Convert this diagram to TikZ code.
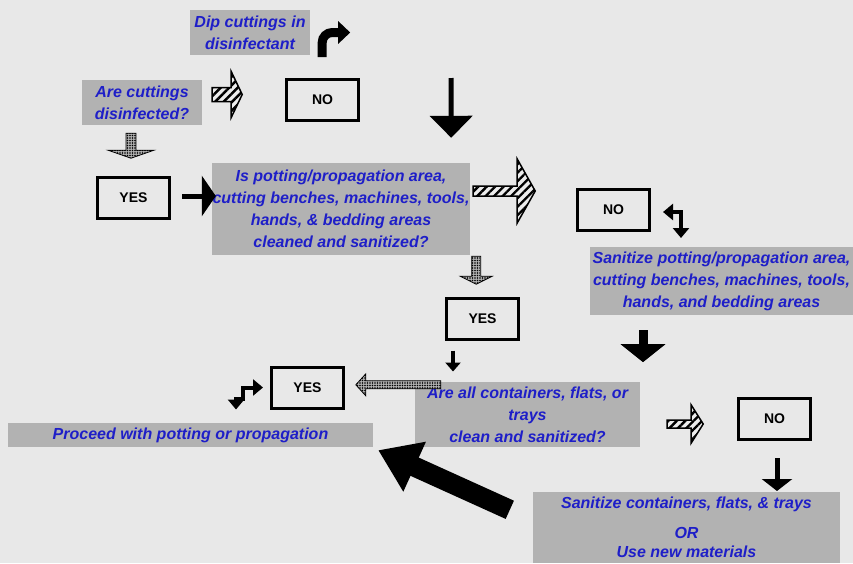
\documentclass[tikz,border=0pt]{standalone}
\usepackage{fontspec}
\newfontfamily\arialfont{Liberation Sans}
\definecolor{bggray}{RGB}{232,232,232}
\definecolor{boxgray}{RGB}{178,178,178}
\definecolor{askblue}{RGB}{30,30,200}
\usetikzlibrary{arrows.meta, calc, patterns, patterns.meta}
\tikzset{
    askbox/.style={rectangle, fill=boxgray, text=askblue, inner sep=0pt, align=center,
                   font=\arialfont\bfseries\itshape\fontsize{16}{22}\selectfont},
    ansbox/.style={rectangle, draw=black, line width=3pt, minimum width=72pt, minimum height=41pt,
                   font=\arialfont\bfseries\fontsize{14}{16}\selectfont},
    hatchedarrow/.style={draw=black, line width=1.5pt, preaction={fill=white!85!gray},
                         pattern={Lines[angle=45,distance=6pt,line width=2.4pt]}, pattern color=black},
    dotsarrow/.style={draw=black, line width=0.8pt, preaction={fill=gray!60},
                      pattern={Dots[distance=2.5pt,radius=0.8pt]}, pattern color=black},
    solidarrow/.style={draw=black, line width=5pt},
}
\newcommand{\blockarrow}[7]{%
    \begin{scope}[shift={#2}, rotate=#3]
        \draw[#1] (0,-#5) -- ({#4-#7},-#5) -- ({#4-#7},-#6) -- (#4,0) -- ({#4-#7},#6) -- ({#4-#7},#5) -- (0,#5) -- cycle;
    \end{scope}}

\begin{document}
\begin{tikzpicture}[x=1pt, y=-1pt]
            \fill[bggray] (0,0) rectangle (853,563);
            \useasboundingbox (0,0) rectangle (853,563);

            \node[askbox, minimum width=120pt, minimum height=45pt] (dip) at (250,32.5) {Dip cuttings in\\disinfectant};
            \node[askbox, minimum width=120pt, minimum height=45pt] (askdis) at (142,102.5) {Are cuttings\\disinfected?};
            \node[ansbox] (no1) at (322.5,100) {NO};
            \node[ansbox] (yes1) at (133.5,197.5) {YES};
            \node[askbox, minimum width=258pt, minimum height=92pt] (askarea) at (341,209) {Is potting/propagation area,\\cutting benches, machines, tools,\\hands, \& bedding areas\\cleaned and sanitized?};
            \node[ansbox] (no2) at (613.5,210) {NO};
            \node[askbox, minimum width=263pt, minimum height=68pt] (sanarea) at (721.5,281) {Sanitize potting/propagation area,\\cutting benches, machines, tools,\\hands, and bedding areas};
            \node[ansbox] (yes2) at (482.5,318.5) {YES};
            \node[ansbox] (yes3) at (307.5,387.5) {YES};
            \node[askbox, minimum width=225pt, minimum height=65pt] (askcont) at (527.5,414.5) {Are all containers, flats, or\\trays\\clean and sanitized?};
            \node[askbox, minimum width=365pt, minimum height=24pt] (proceed) at (190.5,435) {Proceed with potting or propagation};
            \node[ansbox] (no3) at (774.5,419) {NO};
            \node[askbox, minimum width=307pt, minimum height=71pt] (sancont) at (686.5,527.5) {Sanitize containers, flats, \& trays\\[8pt]OR\\[-3pt]Use new materials};

            \draw[solidarrow, line width=9pt, rounded corners=10pt, -{Triangle[width=22pt,length=12pt]}] ($(dip.south east)+(12,2)$) |- ($(dip.east)+(40,0)$);
            \blockarrow{hatchedarrow}{($(askdis.east)+(10,-8)$)}{0}{30}{7}{23}{11}
            \draw[solidarrow, -{Triangle[width=42pt,length=22pt]}] ($(no1.east)+(91,-22)$) -- ($(askarea.north east)+(-19,-25)$);
            \blockarrow{dotsarrow}{($(askdis.south)+(-11,8)$)}{-90}{25}{5}{23}{8}
            \draw[solidarrow, -{Triangle[width=40pt,length=14pt]}] ($(yes1.east)+(11,-1.5)$) -- ($(askarea.west)+(4,-13)$);
            \blockarrow{hatchedarrow}{($(askarea.east)+(3,-18)$)}{0}{62}{5}{32}{18}
            \draw[solidarrow, line width=4pt, {Triangle[width=16pt,length=10pt]}-{Triangle[width=16pt,length=10pt]}] ($(no2.east)+(12,2)$) -| ++(18,26);
            \blockarrow{dotsarrow}{($(askarea.south east)+(6,1)$)}{-90}{28}{4.5}{16}{8}
            \draw[solidarrow, line width=9pt, -{Triangle[width=44pt,length=18pt]}] ($(sanarea.south)+(-78.5,15)$) -- ++(0,32);
            \draw[solidarrow, line width=4pt, -{Triangle[width=15pt,length=9pt]}] ($(yes2.south)+(-29.5,10)$) -- ++(0,21);
            \blockarrow{dotsarrow}{($(askcont.north west)+(26,3)$)}{180}{85}{4}{11}{10}
            \draw[solidarrow, line width=4pt, {Triangle[width=16pt,length=10pt]}-{Triangle[width=16pt,length=10pt]}] ($(yes3.west)+(-7,0)$) -| ++(-20,11) -| ++(-7,11);
            \blockarrow{hatchedarrow}{($(askcont.east)+(27,9.5)$)}{0}{36}{4}{19}{12}
            \draw[solidarrow, -{Triangle[width=30pt,length=12pt]}] ($(no3.south)+(2.5,17)$) -- ++(0,33);
            \draw[solidarrow, line width=20pt, -{Triangle[width=52pt,length=40pt]}] ($(sancont.north west)+(-23,18)$) -- ($(proceed.south east)+(5,3)$);
\end{tikzpicture}
\end{document}
